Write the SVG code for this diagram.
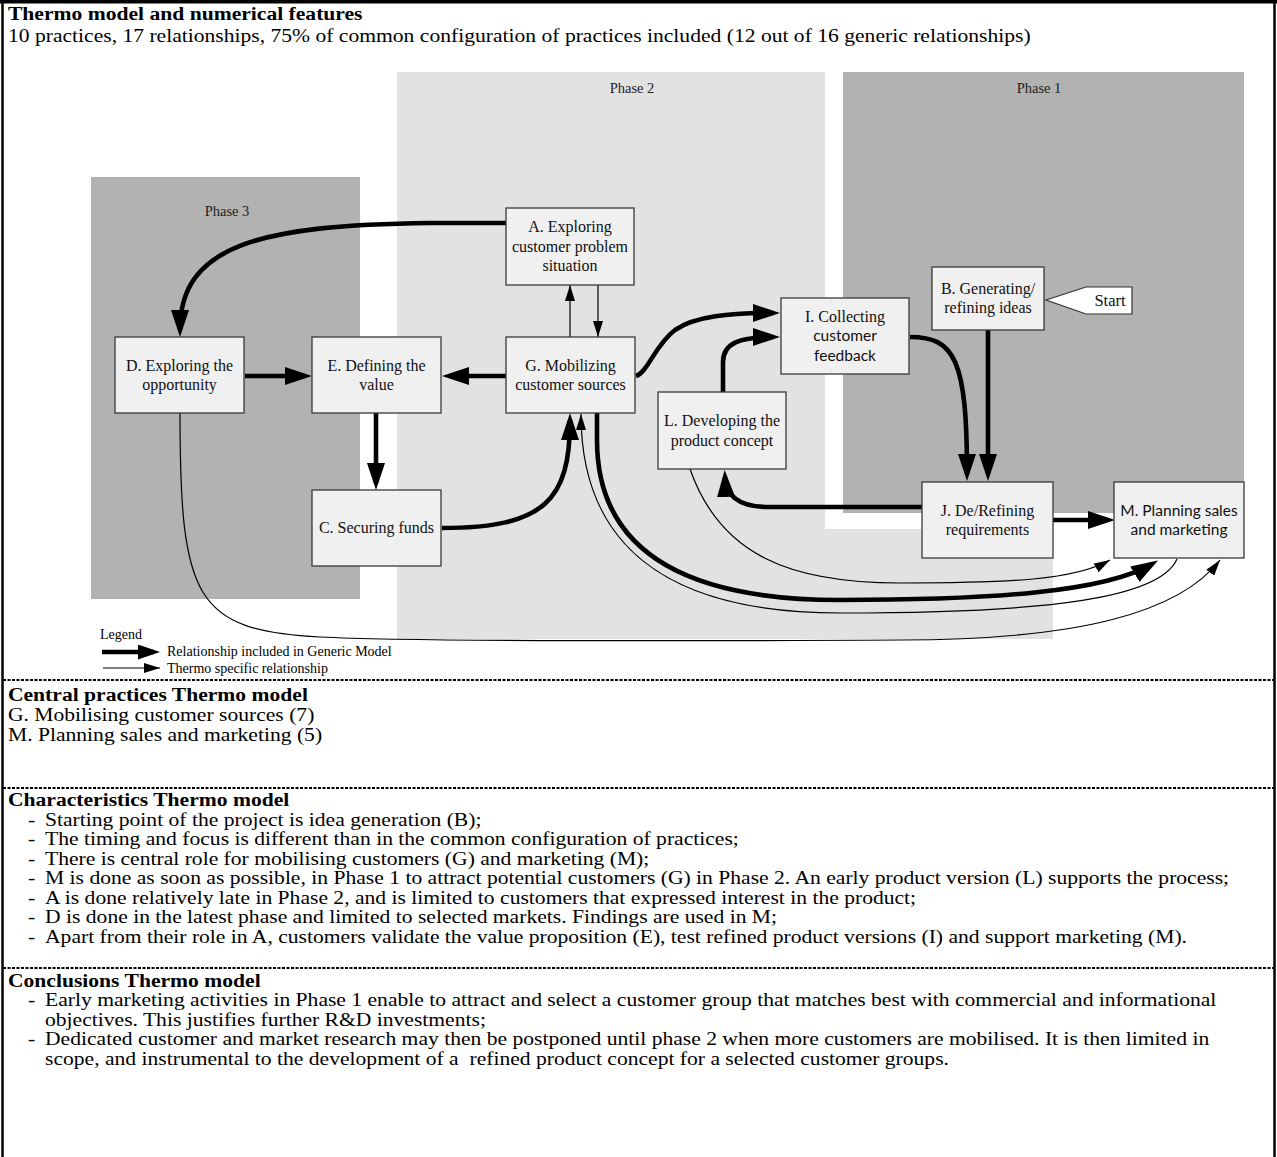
<svg xmlns="http://www.w3.org/2000/svg" width="1277" height="1157" viewBox="0 0 1277 1157">
<style>
.node rect{fill:#f0f0f0;stroke:#3a3a3a;stroke-width:1.3}
.nt{font-family:"Liberation Serif","Times New Roman",serif;font-size:16px;fill:#111;text-anchor:middle}
.ns{font-family:Lato,"Liberation Sans",sans-serif;font-size:15.5px;fill:#111;text-anchor:middle}
.ph{font-family:"Liberation Serif","Times New Roman",serif;font-size:14.5px;fill:#222;text-anchor:middle}
.thick{fill:none;stroke:#000;stroke-width:4.6;marker-end:url(#ah)}
.thin{fill:none;stroke:#000;stroke-width:1.2;marker-end:url(#at)}
.body{font-family:"Liberation Serif","Times New Roman",serif;font-size:19px;fill:#000}
.b{font-weight:bold}
.lg{font-family:"Liberation Serif","Times New Roman",serif;font-size:14px;fill:#000}
.dash{stroke:#000;stroke-width:2.2;stroke-dasharray:3 1.5}
.border{stroke:#000;fill:none}
</style>
<defs>
<marker id="ah" markerUnits="userSpaceOnUse" markerWidth="27" markerHeight="18" refX="20" refY="9" orient="auto"><path d="M0,0 L27,9 L0,18 z" fill="#000"/></marker>
<marker id="al" markerUnits="userSpaceOnUse" markerWidth="22" markerHeight="15" refX="16" refY="7.5" orient="auto"><path d="M0,0 L22,7.5 L0,15 z" fill="#000"/></marker>
<marker id="at" markerUnits="userSpaceOnUse" markerWidth="16" markerHeight="10" refX="16" refY="5" orient="auto"><path d="M0,0 L16,5 L0,10 z" fill="#000"/></marker>
</defs>
<rect width="1277" height="1157" fill="#fff"/>

<g id="phases">
<rect id="phase3" x="91" y="177" width="269" height="422" fill="#b2b2b2"/>
<polygon id="phase2" points="397,72 825,72 825,529 1053,529 1053,639 397,639" fill="#e2e2e2"/>
<rect id="phase1" x="843" y="72" width="401" height="441" fill="#b2b2b2"/>
<text class="ph" x="227" y="216">Phase 3</text>
<text class="ph" x="632" y="93">Phase 2</text>
<text class="ph" x="1039" y="93">Phase 1</text>
</g>

<g id="connectors">
<path class="thick" d="M506,223 L430,223 C260,225 180,245 180,330"/>
<path class="thick" d="M245,376 L305,376"/>
<path class="thick" d="M506,376 L449,376"/>
<path class="thick" d="M376,413 L376,483"/>
<path class="thick" d="M442,528 C545,528 570,500 570,420"/>
<path class="thick" d="M636,376 C648,372 655,345 675,330 C695,316 730,313 773,313"/>
<path class="thick" d="M723,392 L723,362 C723,343 740,337 773,337"/>
<path class="thick" d="M910,337 C955,337 967,360 967,474"/>
<path class="thick" d="M988,330 L988,474"/>
<path class="thick" d="M922,507 L768,507 C740,507 726,497 725,477"/>
<path class="thick" d="M1053,520 L1108,520"/>
<path class="thick" d="M597,413 L597,440 C597,560 700,600 840,600 C990,600 1105,592 1152,564"/>
<path class="thin" d="M570,337 L570,285"/>
<path class="thin" d="M598,285 L598,337"/>
<path class="thin" d="M690,469 C720,555 790,583 900,583 C1010,583 1075,580 1110,560"/>
<path class="thin" d="M1177,559 C1160,598 1050,613 840,613 C660,613 581,540 581,414"/>
<path class="thin" d="M180,413 C180,600 195,630 320,637 C420,642 700,641 900,640 C1080,640 1180,612 1220,560"/>
</g>

<g id="nodeA" class="node"><rect x="506" y="208" width="128" height="77"/>
<text class="nt" x="570" y="232">A. Exploring</text><text class="nt" x="570" y="252">customer problem</text><text class="nt" x="570" y="271">situation</text></g>
<g id="nodeB" class="node"><rect x="932" y="267" width="112" height="63"/>
<text class="nt" x="988" y="294">B. Generating/</text><text class="nt" x="988" y="313">refining ideas</text></g>
<g id="start"><polygon points="1046,300 1086,287 1132,287 1132,314 1086,314" fill="#fff" stroke="#333" stroke-width="1.2"/>
<text class="nt" x="1110" y="306" style="font-size:16.5px">Start</text></g>
<g id="nodeI" class="node"><rect x="781" y="298" width="128" height="76"/>
<text class="nt" x="845" y="322">I. Collecting</text><text class="ns" x="845" y="341">customer</text><text class="ns" x="845" y="361">feedback</text></g>
<g id="nodeD" class="node"><rect x="115" y="337" width="129" height="76"/>
<text class="nt" x="179.5" y="371">D. Exploring the</text><text class="nt" x="179.5" y="390">opportunity</text></g>
<g id="nodeE" class="node"><rect x="312" y="337" width="129" height="76"/>
<text class="nt" x="376.5" y="371">E. Defining the</text><text class="nt" x="376.5" y="390">value</text></g>
<g id="nodeG" class="node"><rect x="506" y="337" width="129" height="76"/>
<text class="nt" x="570.5" y="371">G. Mobilizing</text><text class="nt" x="570.5" y="390">customer sources</text></g>
<g id="nodeL" class="node"><rect x="658" y="392" width="128" height="77"/>
<text class="nt" x="722" y="426">L. Developing the</text><text class="nt" x="722" y="446">product concept</text></g>
<g id="nodeC" class="node"><rect x="312" y="490" width="129" height="76"/>
<text class="nt" x="376.5" y="533">C. Securing funds</text></g>
<g id="nodeJ" class="node"><rect x="922" y="482" width="131" height="76"/>
<text class="nt" x="987.5" y="516">J. De/Refining</text><text class="nt" x="987.5" y="535">requirements</text></g>
<g id="nodeM" class="node"><rect x="1114" y="482" width="130" height="76"/>
<text class="ns" x="1179" y="516">M. Planning sales</text><text class="ns" x="1179" y="535">and marketing</text></g>

<g id="legend">
<text class="lg" x="100" y="639">Legend</text>
<path d="M102,652 L154,652" stroke="#000" stroke-width="4.5" fill="none" marker-end="url(#al)"/>
<path d="M103,668 L160,668" stroke="#000" stroke-width="1.2" fill="none" marker-end="url(#at)"/>
<text class="lg" x="167" y="656">Relationship included in Generic Model</text>
<text class="lg" x="167" y="673">Thermo specific relationship</text>
</g>

<g id="frame">
<line class="border" x1="0" y1="1.75" x2="1277" y2="1.75" stroke-width="3.5"/>
<line class="border" x1="2.5" y1="0" x2="2.5" y2="1157" stroke-width="2.5"/>
<line class="border" x1="1274.5" y1="0" x2="1274.5" y2="1157" stroke-width="2.5"/>
<line class="dash" x1="3" y1="680" x2="1274" y2="680"/>
<line class="dash" x1="3" y1="788" x2="1274" y2="788"/>
<line class="dash" x1="3" y1="968" x2="1274" y2="968"/>
</g>

<g id="texts" class="body" transform="scale(1.137 1)">
<text class="b" x="7" y="20">Thermo model and numerical features</text>
<text x="7" y="42">10 practices, 17 relationships, 75% of common configuration of practices included (12 out of 16 generic relationships)</text>
<text class="b" x="7" y="701">Central practices Thermo model</text>
<text x="7" y="721">G. Mobilising customer sources (7)</text>
<text x="7" y="741">M. Planning sales and marketing (5)</text>
<text class="b" x="7" y="806">Characteristics Thermo model</text>
<text x="24.6" y="826">-</text><text x="39.6" y="826">Starting point of the project is idea generation (B);</text>
<text x="24.6" y="845.5">-</text><text x="39.6" y="845.5">The timing and focus is different than in the common configuration of practices;</text>
<text x="24.6" y="865">-</text><text x="39.6" y="865">There is central role for mobilising customers (G) and marketing (M);</text>
<text x="24.6" y="884.5">-</text><text x="39.6" y="884.5">M is done as soon as possible, in Phase 1 to attract potential customers (G) in Phase 2. An early product version (L) supports the process;</text>
<text x="24.6" y="904">-</text><text x="39.6" y="904">A is done relatively late in Phase 2, and is limited to customers that expressed interest in the product;</text>
<text x="24.6" y="923.5">-</text><text x="39.6" y="923.5">D is done in the latest phase and limited to selected markets. Findings are used in M;</text>
<text x="24.6" y="943">-</text><text x="39.6" y="943">Apart from their role in A, customers validate the value proposition (E), test refined product versions (I) and support marketing (M).</text>
<text class="b" x="7" y="987">Conclusions Thermo model</text>
<text x="24.6" y="1006.5">-</text><text x="39.6" y="1006.5">Early marketing activities in Phase 1 enable to attract and select a customer group that matches best with commercial and informational</text>
<text x="39.6" y="1026">objectives. This justifies further R&amp;D investments;</text>
<text x="24.6" y="1045.5">-</text><text x="39.6" y="1045.5">Dedicated customer and market research may then be postponed until phase 2 when more customers are mobilised. It is then limited in</text>
<text x="39.6" y="1065" style="white-space:pre">scope, and instrumental to the development of a  refined product concept for a selected customer groups.</text>
</g>
</svg>
